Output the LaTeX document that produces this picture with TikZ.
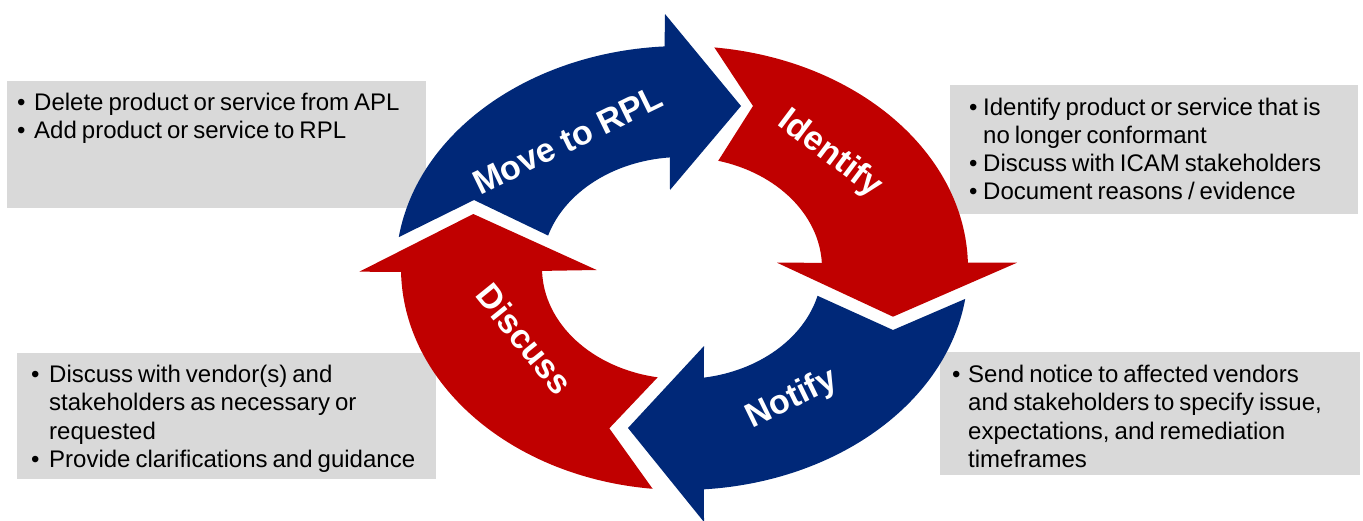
\documentclass[tikz,border=0pt]{standalone}
\usepackage{fontspec}
\setmainfont{Liberation Sans}
\definecolor{ringblue}{RGB}{0,40,120}
\definecolor{ringred}{RGB}{192,0,0}
\definecolor{boxgray}{RGB}{217,217,217}
\newcommand\bulitem[1]{\makebox[#1][l]{\textbullet}}
\newcommand\contline[1]{\hspace*{#1}}
\begin{document}
\begin{tikzpicture}[x=1pt,y=1pt,
  boxbg/.style={fill=boxgray, draw=none, inner sep=0pt, outer sep=0pt, anchor=north west},
  boxtxt/.style={font=\fontsize{24}{28}\selectfont, execute at begin node={\spaceskip=0.21em plus 0.1em minus 0.05em\relax}, text=black, align=left, text width=440pt, inner sep=0pt, anchor=base west},
  boxtxtb/.style={boxtxt, font=\fontsize{24}{28.5}\selectfont},
  lbl/.style={font=\fontsize{34}{38}\selectfont\bfseries, text=white, inner sep=0pt},
  segblue/.style={fill=ringblue, draw=none},
  segred/.style={fill=ringred, draw=none}]
\useasboundingbox (0,0) rectangle (1363,-520);
% grey boxes
\node[boxbg, minimum width=419pt, minimum height=127pt] (tlbox) at (7,-81) {};
\node[boxbg, minimum width=408pt, minimum height=129pt] (trbox) at (950,-85) {};
\node[boxbg, minimum width=419pt, minimum height=126pt] (blbox) at (17,-353) {};
\node[boxbg, minimum width=420pt, minimum height=123pt] (brbox) at (940,-352) {};
% box texts
\node[boxtxt] (tltext) at (17,-110) {\bulitem{17pt}Delete product or service from APL\\
\bulitem{17pt}Add product or service to RPL};
\node[boxtxt] (trtext) at (969,-115) {\bulitem{14pt}Identify product or service that is\\
\contline{14pt}no longer conformant\\
\bulitem{14pt}Discuss with ICAM stakeholders\\
\bulitem{14pt}Document reasons / evidence};
\node[boxtxtb] (bltext) at (31,-382) {\bulitem{18pt}Discuss with vendor(s) and\\
\contline{18pt}stakeholders as necessary or\\
\contline{18pt}requested\\
\bulitem{18pt}Provide clarifications and guidance};
\node[boxtxtb] (brtext) at (952,-382) {\bulitem{16pt}Send notice to affected vendors\\
\contline{16pt}and stakeholders to specify issue,\\
\contline{16pt}expectations, and remediation\\
\contline{16pt}timeframes};
% ring segments
\begin{scope}[shift={(682,-268)}]
\path[segblue] (172:286pt and 222pt)
  arc[start angle=172, end angle=93.5, x radius=286pt, y radius=222pt]
  -- (-17,254) -- (59,162) -- (-12,78)
  -- (95:140pt and 111pt)
  arc[start angle=95, end angle=163, x radius=140pt, y radius=111pt]
  -- (-208,68) -- cycle;
\path[segred] (83.5:286pt and 222pt)
  arc[start angle=83.5, end angle=1.4, x radius=286pt, y radius=222pt]
  -- (335,5.3) -- (211,-48.7) -- (95,5.3)
  -- (2.7:140pt and 111pt)
  arc[start angle=2.7, end angle=75, x radius=140pt, y radius=111pt]
  -- (71,162) -- cycle;
\path[segblue] (-8:286pt and 222pt)
  arc[start angle=-8, end angle=-85.6, x radius=286pt, y radius=222pt]
  -- (22,-254) -- (-54,-160) -- (22,-78)
  -- (-81:140pt and 111pt)
  arc[start angle=-81, end angle=-14.5, x radius=140pt, y radius=111pt]
  -- (211,-62) -- cycle;
\path[segred] (264:281pt and 222pt)
  arc[start angle=264, end angle=181, x radius=281pt, y radius=222pt]
  -- (-322.7,-3.7) -- (-208.7,54) -- (-85.3,-2)
  -- (181.5:140pt and 111pt)
  arc[start angle=181.5, end angle=260, x radius=140pt, y radius=111pt]
  -- (-72.7,-160.3) -- cycle;
\end{scope}
% labels
\node[lbl, rotate=26] (lmove) at (568,-140) {Move to RPL};
\node[lbl, rotate=-37] (lident) at (830,-154) {Identify};
\node[lbl, rotate=26] (lnotify) at (792,-399) {Notify};
\node[lbl, rotate=-51] (ldiscuss) at (525,-339) {Discuss};
\end{tikzpicture}
\end{document}
